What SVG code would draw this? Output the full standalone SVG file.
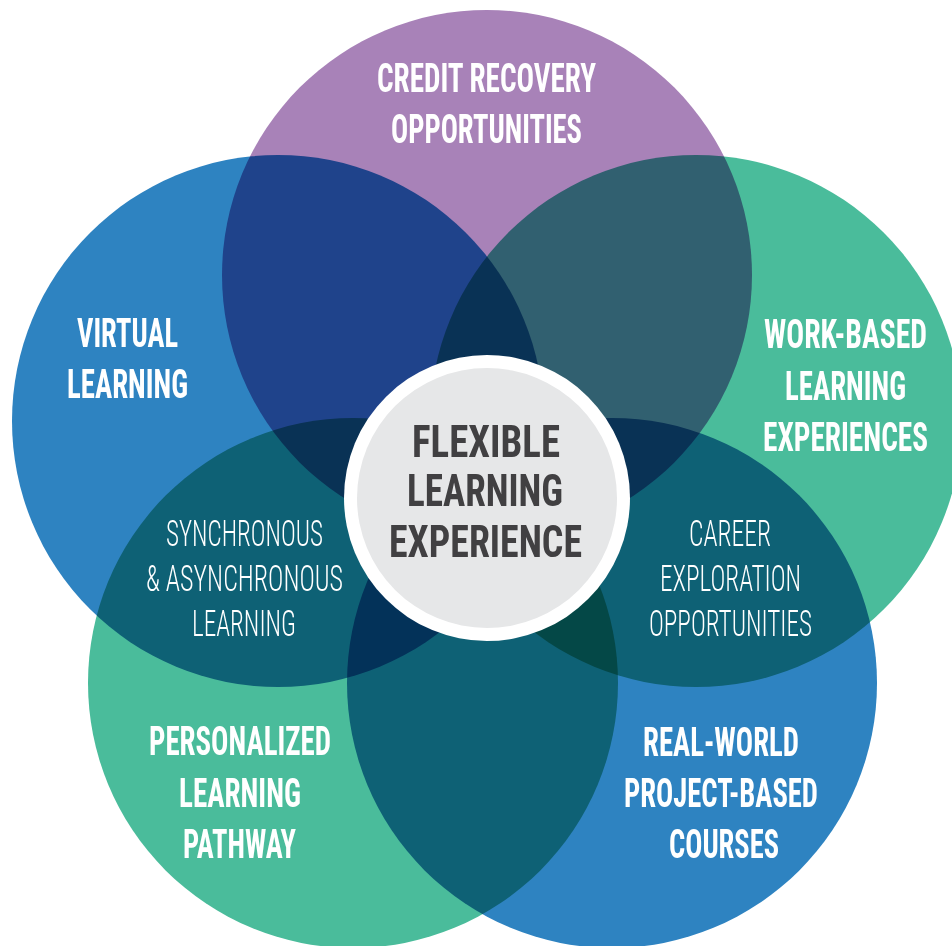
<svg xmlns="http://www.w3.org/2000/svg" width="952" height="946" viewBox="0 0 952 946">
  <style>
    .c { mix-blend-mode: multiply; }
    .purple { fill: #a882b8; }
    .blue { fill: #2e83c1; }
    .green { fill: #4abc9b; }
    .lbl { font-family: "Roboto Condensed", Roboto, "Liberation Sans", sans-serif; font-weight: 700; fill: #ffffff; text-anchor: middle; font-size: 41px; }
    .sub { font-family: "Roboto Condensed", Roboto, "Liberation Sans", sans-serif; font-weight: 300; fill: #ffffff; text-anchor: middle; font-size: 36.5px; }
    .ctr { font-family: "Roboto Condensed", Roboto, "Liberation Sans", sans-serif; font-weight: 700; fill: #414042; text-anchor: middle; font-size: 44.5px; }
  </style>
  <rect x="0" y="0" width="952" height="946" fill="#ffffff"/>
  <g id="credit-recovery">
    <circle class="c purple" cx="487" cy="275" r="265"/>
    <text class="lbl" transform="translate(486.5 92) scale(0.6 1)" textLength="365" lengthAdjust="spacingAndGlyphs">CREDIT RECOVERY</text>
    <text class="lbl" transform="translate(486.5 143) scale(0.6 1)" textLength="318.3" lengthAdjust="spacingAndGlyphs">OPPORTUNITIES</text>
  </g>
  <g id="virtual-learning">
    <circle class="c blue" cx="278" cy="421" r="266"/>
    <text class="lbl" transform="translate(127.5 347) scale(0.6 1)" textLength="168.3" lengthAdjust="spacingAndGlyphs">VIRTUAL</text>
    <text class="lbl" transform="translate(127.5 398) scale(0.6 1)" textLength="201.7" lengthAdjust="spacingAndGlyphs">LEARNING</text>
  </g>
  <g id="work-based">
    <circle class="c green" cx="696" cy="421" r="266"/>
    <text class="lbl" transform="translate(845.5 348) scale(0.6 1)" textLength="271.7" lengthAdjust="spacingAndGlyphs">WORK-BASED</text>
    <text class="lbl" transform="translate(845.5 400) scale(0.6 1)" textLength="201.7" lengthAdjust="spacingAndGlyphs">LEARNING</text>
    <text class="lbl" transform="translate(845.5 451) scale(0.6 1)" textLength="275" lengthAdjust="spacingAndGlyphs">EXPERIENCES</text>
  </g>
  <g id="personalized">
    <circle class="c green" cx="353" cy="683" r="265"/>
    <text class="lbl" transform="translate(240 755) scale(0.6 1)" textLength="303.3" lengthAdjust="spacingAndGlyphs">PERSONALIZED</text>
    <text class="lbl" transform="translate(240 807) scale(0.6 1)" textLength="203.3" lengthAdjust="spacingAndGlyphs">LEARNING</text>
    <text class="lbl" transform="translate(239.5 858) scale(0.6 1)" textLength="188.3" lengthAdjust="spacingAndGlyphs">PATHWAY</text>
  </g>
  <g id="real-world">
    <circle class="c blue" cx="612" cy="683" r="265"/>
    <text class="lbl" transform="translate(721 756) scale(0.6 1)" textLength="260" lengthAdjust="spacingAndGlyphs">REAL-WORLD</text>
    <text class="lbl" transform="translate(721 807) scale(0.6 1)" textLength="323.3" lengthAdjust="spacingAndGlyphs">PROJECT-BASED</text>
    <text class="lbl" transform="translate(724 858) scale(0.6 1)" textLength="183.3" lengthAdjust="spacingAndGlyphs">COURSES</text>
  </g>
  <g id="synchronous">
    <text class="sub" transform="translate(244.5 546) scale(0.64 1)" textLength="245.3" lengthAdjust="spacingAndGlyphs">SYNCHRONOUS</text>
    <text class="sub" transform="translate(244.5 591) scale(0.64 1)" textLength="307.8" lengthAdjust="spacingAndGlyphs">&amp; ASYNCHRONOUS</text>
    <text class="sub" transform="translate(244 636) scale(0.64 1)" textLength="162.5" lengthAdjust="spacingAndGlyphs">LEARNING</text>
  </g>
  <g id="career-exploration">
    <text class="sub" transform="translate(730 546) scale(0.64 1)" textLength="128.1" lengthAdjust="spacingAndGlyphs">CAREER</text>
    <text class="sub" transform="translate(730.5 591) scale(0.64 1)" textLength="220.3" lengthAdjust="spacingAndGlyphs">EXPLORATION</text>
    <text class="sub" transform="translate(730.5 636) scale(0.64 1)" textLength="254.7" lengthAdjust="spacingAndGlyphs">OPPORTUNITIES</text>
  </g>
  <g id="connectors"></g>
  <g id="flexible-learning">
    <circle cx="487" cy="498" r="143" fill="#ffffff"/>
    <circle cx="487" cy="498" r="130" fill="#e6e7e8"/>
    <text class="ctr" transform="translate(486 457) scale(0.66 1)" textLength="224.2" lengthAdjust="spacingAndGlyphs">FLEXIBLE</text>
    <text class="ctr" transform="translate(485 506) scale(0.66 1)" textLength="236.4" lengthAdjust="spacingAndGlyphs">LEARNING</text>
    <text class="ctr" transform="translate(485.5 557) scale(0.66 1)" textLength="292.4" lengthAdjust="spacingAndGlyphs">EXPERIENCE</text>
  </g>
</svg>
